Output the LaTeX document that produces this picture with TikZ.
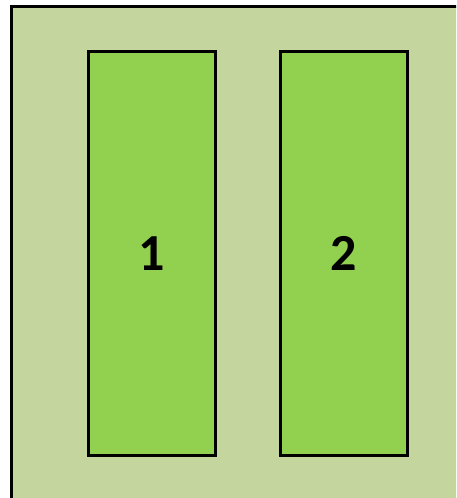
\documentclass[tikz,border=0pt]{standalone}
\usepackage{fontspec}
\setmainfont{Carlito}
\usepackage{xcolor}
\usepackage{tikz}
\usetikzlibrary{positioning}
\definecolor{field}{HTML}{C4D69E}
\definecolor{lane}{HTML}{92D050}

\begin{document}
\begin{tikzpicture}[
  x=1pt,y=-1pt,
  lanebox/.style={draw=black,line width=3pt,fill=lane,outer sep=0pt,minimum width=127pt,minimum height=403.5pt,font=\fontsize{52}{52}\selectfont\bfseries},
  node distance=65pt
]
\useasboundingbox (0,0) rectangle (456,498);
\clip (0,0) rectangle (456,498);
\draw[line width=3pt,fill=field] (11.5,6.5) rectangle (470,512);
\node[lanebox] (one) at (152,253.25) {1};
\node[lanebox,right=of one] (two) {2};
\end{tikzpicture}
\end{document}
